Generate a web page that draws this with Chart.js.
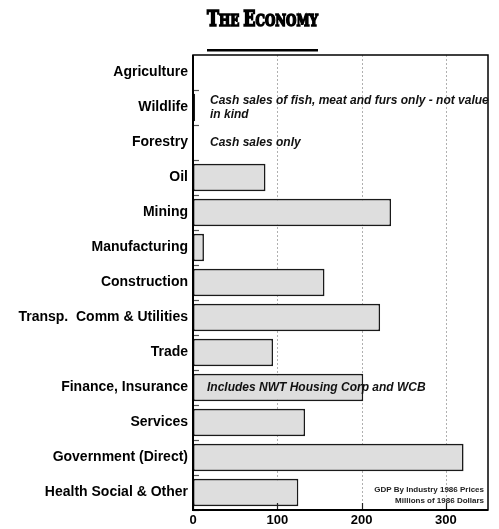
<!DOCTYPE html>
<html>
<head>
<meta charset="utf-8">
<script src="https://cdn.jsdelivr.net/npm/chart.js@4/dist/chart.umd.min.js"></script>
<style>
html, body { margin: 0; padding: 0; background: #fff; }
#wrap { width: 499px; height: 529px; }
</style>
</head>
<body>
<div id="wrap"><canvas id="myChart"></canvas></div>
<script>
// GDP by industry, 1986 prices (millions of 1986 dollars)
const industries = [
    "Agriculture", "Wildlife", "Forestry", "Oil", "Mining", "Manufacturing",
    "Construction", "Transp.  Comm & Utilities", "Trade", "Finance, Insurance",
    "Services", "Government (Direct)", "Health Social & Other"
]
const gdp = [0.5, 2.5, 1, 86, 235, 13, 156, 222, 95, 202, 133, 321, 125]
const xTicks = [0, 100, 200, 300]

// notes written inside the plot, keyed by industry
const notes = {
    "Wildlife": ["Cash sales of fish, meat and furs only - not value", "in kind"],
    "Forestry": ["Cash sales only"],
    "Finance, Insurance": ["Includes NWT Housing Corp and WCB"]
}
const sourceNote = ["GDP By Industry 1986 Prices", "Millions of 1986 Dollars"]

const sans = "'Liberation Sans', Arial, sans-serif"

// title, frame, little ticks and the notes
const decorations = {
    id: "decorations",
    beforeDatasetsDraw(chart) {
        const { ctx, chartArea: a, scales } = chart
        ctx.save()
        // dashed grid lines
        ctx.strokeStyle = "#b0b0b0"
        ctx.lineWidth = 1
        ctx.setLineDash([2, 2])
        xTicks.forEach(v => {
            if (v === 0) return
            const x = Math.round(scales.x.getPixelForValue(v)) + 0.5
            ctx.beginPath()
            ctx.moveTo(x, a.top)
            ctx.lineTo(x, a.bottom)
            ctx.stroke()
        })
        ctx.restore()
    },
    afterDatasetsDraw(chart) {
        const { ctx, chartArea: a, scales } = chart
        ctx.save()

        // small marks between categories on the left axis
        ctx.strokeStyle = "#555"
        ctx.lineWidth = 1.2
        const step = (a.bottom - a.top) / industries.length
        for (let i = 1; i <= industries.length; i++) {
            const y = Math.round(a.top + i * step) + 0.5
            ctx.beginPath()
            ctx.moveTo(a.left, y)
            ctx.lineTo(a.left + 6, y)
            ctx.stroke()
        }
        // marks on bottom axis
        ctx.strokeStyle = "#222"
        xTicks.forEach(v => {
            const x = Math.round(scales.x.getPixelForValue(v)) + 0.5
            ctx.beginPath()
            ctx.moveTo(x, a.bottom)
            ctx.lineTo(x, a.bottom - 7)
            ctx.stroke()
        })

        // frame
        ctx.strokeStyle = "#000"
        ctx.lineWidth = 1.5
        ctx.strokeRect(a.left, a.top, a.right - a.left, a.bottom - a.top)
        ctx.lineWidth = 2
        ctx.beginPath()
        ctx.moveTo(a.left, a.top)
        ctx.lineTo(a.left, a.bottom)
        ctx.lineTo(a.right, a.bottom)
        ctx.stroke()

        // notes
        ctx.fillStyle = "#111"
        ctx.font = "italic bold 12px " + sans
        ctx.textBaseline = "middle"
        ctx.textAlign = "left"
        Object.keys(notes).forEach(key => {
            const i = industries.indexOf(key)
            const yc = scales.y.getPixelForValue(i)
            const lines = notes[key]
            const dx = key === "Finance, Insurance" ? 14 : 17
            lines.forEach((t, j) => {
                const y = yc + (j - (lines.length - 1) / 2) * 14
                ctx.fillText(t, a.left + dx, y)
            })
        })

        ctx.font = "bold 8px " + sans
        ctx.textAlign = "right"
        ctx.fillStyle = "#222"
        ctx.fillText(sourceNote[0], a.right - 4, a.bottom - 20)
        ctx.fillText(sourceNote[1], a.right - 4, a.bottom - 9)

        // title in small caps
        const parts = [["T", 23], ["HE ", 17], ["E", 23], ["CONOMY", 17]]
        ctx.textAlign = "left"
        ctx.textBaseline = "alphabetic"
        ctx.fillStyle = "#000"
        let w = 0
        parts.forEach(p => {
            ctx.font = "900 " + p[1] + "px 'DejaVu Serif Condensed', 'DejaVu Serif', serif"
            w += ctx.measureText(p[0]).width
        })
        const left = 207, width = 111
        ctx.translate(left, 26)
        ctx.scale(width / w, 1)
        let x = 0
        ctx.strokeStyle = "#000"
        ctx.lineWidth = 1.6
        parts.forEach(p => {
            ctx.font = "900 " + p[1] + "px 'DejaVu Serif Condensed', 'DejaVu Serif', serif"
            ctx.fillText(p[0], x, 0)
            ctx.strokeText(p[0], x, 0)
            x += ctx.measureText(p[0]).width
        })
        ctx.setTransform(1, 0, 0, 1, 0, 0)
        ctx.fillRect(207, 49, 111, 2.5)

        ctx.restore()
    }
}

new Chart(document.getElementById("myChart"), {
    type: "bar",
    data: {
        labels: industries,
        datasets: [{
            data: gdp,
            backgroundColor: "#dedede",
            borderColor: "#1a1a1a",
            borderWidth: 1.6,
            borderSkipped: false,
            barPercentage: 0.78,
            categoryPercentage: 1
        }]
    },
    options: {
        indexAxis: "y",
        responsive: true,
        maintainAspectRatio: false,
        animation: false,
        layout: { padding: { top: 55, right: 11, left: 0, bottom: 0 } },
        plugins: {
            legend: { display: false },
            tooltip: { enabled: false }
        },
        scales: {
            x: {
                min: 0,
                max: 350,
                afterBuildTicks: s => { s.ticks = xTicks.map(v => ({ value: v })) },
                afterFit: s => { s.height = 19 },
                grid: { display: false, drawTicks: false },
                border: { display: false },
                ticks: {
                    color: "#000",
                    padding: 3,
                    maxRotation: 0,
                    font: { family: sans, size: 13, weight: "bold" }
                }
            },
            y: {
                afterFit: s => { s.width = 193 },
                grid: { display: false, drawTicks: false },
                border: { display: false },
                ticks: {
                    color: "#000",
                    padding: 5,
                    autoSkip: false,
                    font: { family: sans, size: 14, weight: "bold" }
                }
            }
        }
    },
    plugins: [decorations]
})
</script>
</body>
</html>
